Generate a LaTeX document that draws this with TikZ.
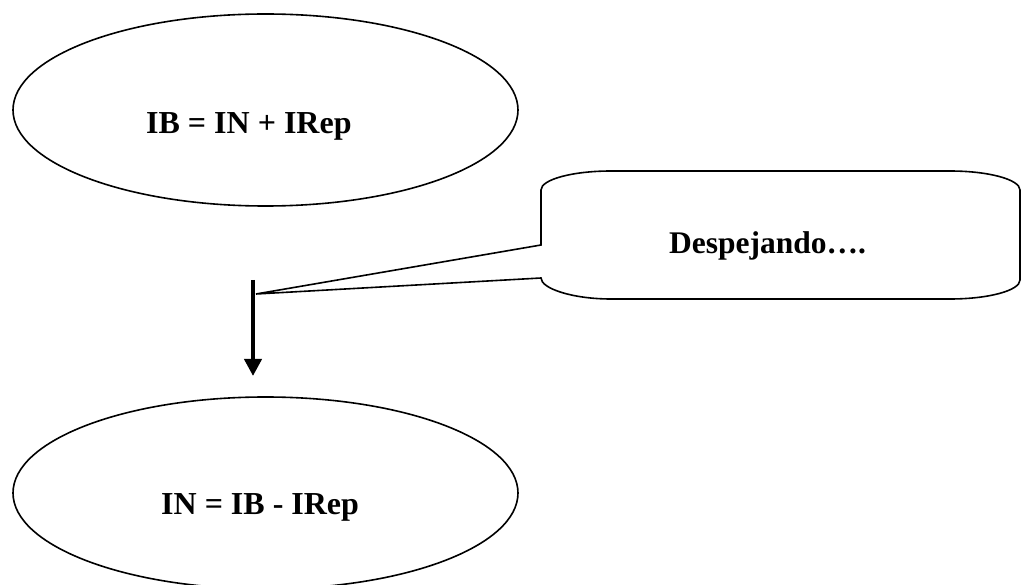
\documentclass[tikz,border=0pt]{standalone}
\usepackage{fontspec}
\setmainfont{Liberation Serif}
\usetikzlibrary{shapes.geometric,arrows.meta}
\begin{document}
\begin{tikzpicture}[x=1pt,y=-1pt,
  bubble/.style={draw=black,line width=1.6pt,ellipse,inner sep=0pt,
                 minimum width=505pt,minimum height=192pt},
  eqtext/.style={anchor=base west,inner sep=0pt,font=\fontsize{32}{38}\selectfont\bfseries},
  notetext/.style={anchor=base west,inner sep=0pt,font=\fontsize{31.5}{38}\selectfont\bfseries},
  callout/.style={draw=black,line width=1.6pt,line join=miter},
  bigarrow/.style={line width=4pt,-{Triangle[length=17pt,width=17pt]}}]
\useasboundingbox (0,0) rectangle (1021,585);
\clip (0,0) rectangle (1021,585);

% the two equations in their ellipses
\node[bubble] (sum) at (265.5,110) {};
\node[eqtext] (sumtxt) at (146,134) {IB = IN + IRep};
\node[bubble] (diff) at (265.5,493) {};
\node[eqtext] (difftxt) at (161,514) {IN = IB - IRep};

% callout box with its pointer
\coordinate (tip) at (256,294);
\coordinate (ptop) at (541,245);
\coordinate (pbot) at (541,278);
\draw[callout] (ptop) -- (541,190)
  .. controls (541,179.5) and (572.4,171) .. (611,171)
  -- (950,171)
  .. controls (988.6,171) and (1020,179.5) .. (1020,190)
  -- (1020,280)
  .. controls (1020,290.5) and (988.6,299) .. (950,299)
  -- (611,299)
  .. controls (572.4,299) and (541,288.5) .. (pbot)
  -- (tip) -- cycle;
\node[notetext] (note) at (669,254) {Despejando….};

% downward arrow
\coordinate (astart) at (253,280);
\coordinate (aend) at (253,376);
\draw[bigarrow] (astart) -- (aend);
\end{tikzpicture}
\end{document}
